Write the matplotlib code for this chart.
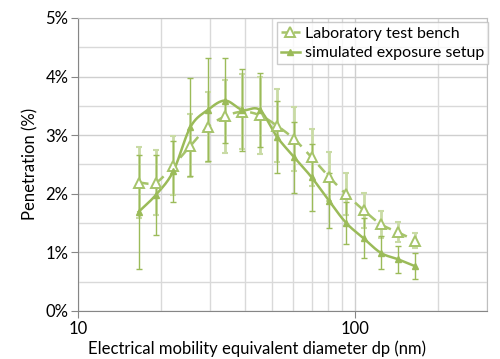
import numpy as np
import matplotlib.pyplot as plt
from matplotlib.ticker import FixedLocator, FuncFormatter, NullFormatter

# -- Data --------------------------------------------------------------------
diameter = [16.55, 19.11, 22.07, 25.48, 29.43, 33.98, 39.24, 45.31, 52.33,
            60.43, 69.78, 80.58, 93.06, 107.46, 124.09, 143.3, 165.48]

lab_pen = [2.19, 2.19, 2.48, 2.82, 3.14, 3.32, 3.40, 3.34, 3.16,
           2.93, 2.62, 2.29, 1.99, 1.72, 1.48, 1.34, 1.20]
lab_err = [0.60, 0.55, 0.50, 0.54, 0.60, 0.62, 0.64, 0.66, 0.62,
           0.55, 0.48, 0.42, 0.36, 0.30, 0.23, 0.17, 0.13]

sim_pen = [1.69, 1.98, 2.38, 3.14, 3.43, 3.59, 3.43, 3.43, 2.97,
           2.62, 2.28, 1.88, 1.50, 1.24, 0.99, 0.88, 0.76]
sim_err = [0.97, 0.68, 0.52, 0.84, 0.88, 0.72, 0.70, 0.63, 0.62,
           0.61, 0.57, 0.47, 0.36, 0.34, 0.28, 0.23, 0.22]

x_ticks = [10, 100]
y_ticks = [0, 1, 2, 3, 4, 5]


# Excel-style smoothed line: Catmull-Rom through the points in log-x space
def smooth(x, y, n=20):
    lx = np.log10(np.asarray(x, float))
    y = np.asarray(y, float)
    px = np.concatenate([[2 * lx[0] - lx[1]], lx, [2 * lx[-1] - lx[-2]]])
    py = np.concatenate([[2 * y[0] - y[1]], y, [2 * y[-1] - y[-2]]])
    xs, ys = [], []
    for i in range(1, len(px) - 2):
        t = np.linspace(0, 1, n, endpoint=False)
        for p, out in ((px, xs), (py, ys)):
            p0, p1, p2, p3 = p[i - 1], p[i], p[i + 1], p[i + 2]
            out.append(0.5 * (2 * p1 + (-p0 + p2) * t
                              + (2 * p0 - 5 * p1 + 4 * p2 - p3) * t ** 2
                              + (-p0 + 3 * p1 - 3 * p2 + p3) * t ** 3))
    xs.append([lx[-1]])
    ys.append([y[-1]])
    return 10 ** np.concatenate(xs), np.concatenate(ys)


plt.rcParams['font.family'] = ['Lato', 'DejaVu Sans']

green = '#9BBB59'
light = '#C9DBA5'
dash_green = '#A6C46A'

fig = plt.figure(figsize=(5.0, 3.59), dpi=100)
ax = fig.add_axes([0.156, 0.134, 0.818, 0.816])
ax.set_xscale('log')
ax.set_xlim(10, 300)
ax.set_ylim(0, 5)

# grid
ax.xaxis.set_minor_locator(FixedLocator([20, 30, 40, 50, 60, 70, 80, 90, 200, 300]))
ax.yaxis.set_minor_locator(FixedLocator(np.arange(0.5, 5, 1.0)))
ax.grid(True, which='major', color='#CFCFCF', lw=1.0)
ax.grid(True, which='minor', color='#D9D9D9', lw=1.0)
ax.set_axisbelow(True)

# error bars
ax.errorbar(diameter, lab_pen, yerr=lab_err, fmt='none', ecolor=light,
            elinewidth=2.0, capsize=2.5, capthick=1.5, zorder=2)
ax.errorbar(diameter, sim_pen, yerr=sim_err, fmt='none', ecolor=green,
            elinewidth=1.0, capsize=2.0, capthick=1.0, zorder=3)

# smoothed lines
lx, ly = smooth(diameter, lab_pen)
ax.plot(lx, ly, color=dash_green, lw=1.8, ls=(0, (4, 3)), zorder=4)
sx, sy = smooth(diameter, sim_pen)
ax.plot(sx, sy, color=green, lw=1.8, zorder=4)

# markers
ax.plot(diameter, lab_pen, ls='none', marker='^', ms=6.5, mfc='white',
        mec=dash_green, mew=1.4, zorder=5)
ax.plot(diameter, sim_pen, ls='none', marker='^', ms=5, mfc=green,
        mec=green, zorder=5)

# legend proxies
ax.plot([], [], color=dash_green, lw=1.8, ls=(0, (3, 2)), marker='^', ms=6.5,
        mfc='white', mec=dash_green, mew=1.4, label='Laboratory test bench')
ax.plot([], [], color=green, lw=1.8, marker='^', ms=5, mfc=green,
        mec=green, label='simulated exposure setup')
leg = ax.legend(loc='upper right', bbox_to_anchor=(1.003, 0.985),
                fontsize=11.5, frameon=True, fancybox=False, edgecolor='#BFBFBF',
                handlelength=1.2, handletextpad=0.3, borderpad=0.25,
                labelspacing=0.35, borderaxespad=0.0)
leg.get_frame().set_linewidth(1.0)

# axes styling
ax.xaxis.set_major_locator(FixedLocator(x_ticks))
ax.xaxis.set_major_formatter(FuncFormatter(lambda v, p: '%d' % v))
ax.xaxis.set_minor_formatter(NullFormatter())
ax.yaxis.set_major_locator(FixedLocator(y_ticks))
ax.yaxis.set_major_formatter(FuncFormatter(lambda v, p: '%d%%' % v))
ax.tick_params(which='major', direction='out', length=5, color='#868686',
               labelsize=12, pad=2)
ax.tick_params(which='minor', length=0)
for s in ['left', 'bottom']:
    ax.spines[s].set_color('#868686')
for s in ['top', 'right']:
    ax.spines[s].set_color('#BFBFBF')

ax.set_xlabel('Electrical mobility equivalent diameter dp (nm)', fontsize=12)
ax.xaxis.set_label_coords(0.438, -0.148, transform=ax.transAxes)
ax.xaxis.label.set_va('baseline')
ax.set_ylabel('Penetration (%)', fontsize=12, labelpad=5)

fig.savefig('out.png', dpi=100)
